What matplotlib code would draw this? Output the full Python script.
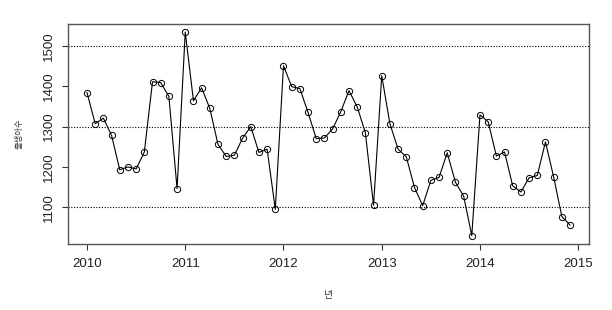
import numpy as np
import matplotlib.pyplot as plt

plt.rcParams['font.family'] = ['Liberation Sans', 'Noto Sans CJK KR', 'DejaVu Sans']

# monthly births, Jan 2010 - Dec 2014
births_2010 = [1384, 1307, 1321, 1278, 1193, 1200, 1195, 1237, 1411, 1409, 1375, 1146]
births_2011 = [1534, 1364, 1396, 1345, 1256, 1226, 1229, 1271, 1300, 1236, 1244, 1095]
births_2012 = [1451, 1399, 1394, 1335, 1270, 1272, 1294, 1337, 1389, 1349, 1285, 1105]
births_2013 = [1426, 1307, 1244, 1225, 1149, 1104, 1167, 1174, 1235, 1162, 1128, 1030]
births_2014 = [1329, 1312, 1227, 1237, 1153, 1138, 1173, 1179, 1262, 1175, 1077, 1056]
births = births_2010 + births_2011 + births_2012 + births_2013 + births_2014
start_year = 2010
years = start_year + np.arange(len(births)) / 12.0

ref_lines = [1100, 1300, 1500]
x_ticks = [2010, 2011, 2012, 2013, 2014, 2015]
y_ticks = [1100, 1200, 1300, 1400, 1500]

fig = plt.figure(figsize=(6.12, 3.10), dpi=100)
ax = fig.add_axes([0.1106, 0.2139, 0.8524, 0.7087])

for v in ref_lines:
    ax.axhline(v, color='black', linestyle=(0, (1, 1.5)), linewidth=0.8, zorder=1)

ax.plot(years, births, color='black', linewidth=0.8, marker='o', markersize=4.5,
        markerfacecolor='none', markeredgewidth=0.7, zorder=2)

# R-style 4% padding
xr = years[-1] - years[0]
ax.set_xlim(years[0] - 0.04 * xr, years[-1] + 0.04 * xr)
yr = max(births) - min(births)
ax.set_ylim(min(births) - 0.04 * yr, max(births) + 0.04 * yr)

ax.set_xticks(x_ticks)
ax.set_yticks(y_ticks)
ax.set_yticklabels([str(v) for v in y_ticks], rotation=90, va='center')
ax.tick_params(axis='both', direction='out', length=4.5, width=0.8, labelsize=9.5,
               colors='#333333', labelcolor='#222222')
ax.tick_params(axis='x', pad=6)
ax.tick_params(axis='y', pad=5)
for s in ax.spines.values():
    s.set_color('#555555')
    s.set_linewidth(1.0)

ax.set_xlabel('년', fontsize=7, labelpad=14, color='#333333')
ax.set_ylabel('출생아수', fontsize=6, labelpad=14, color='#333333')

fig.savefig('out.png', dpi=100)
